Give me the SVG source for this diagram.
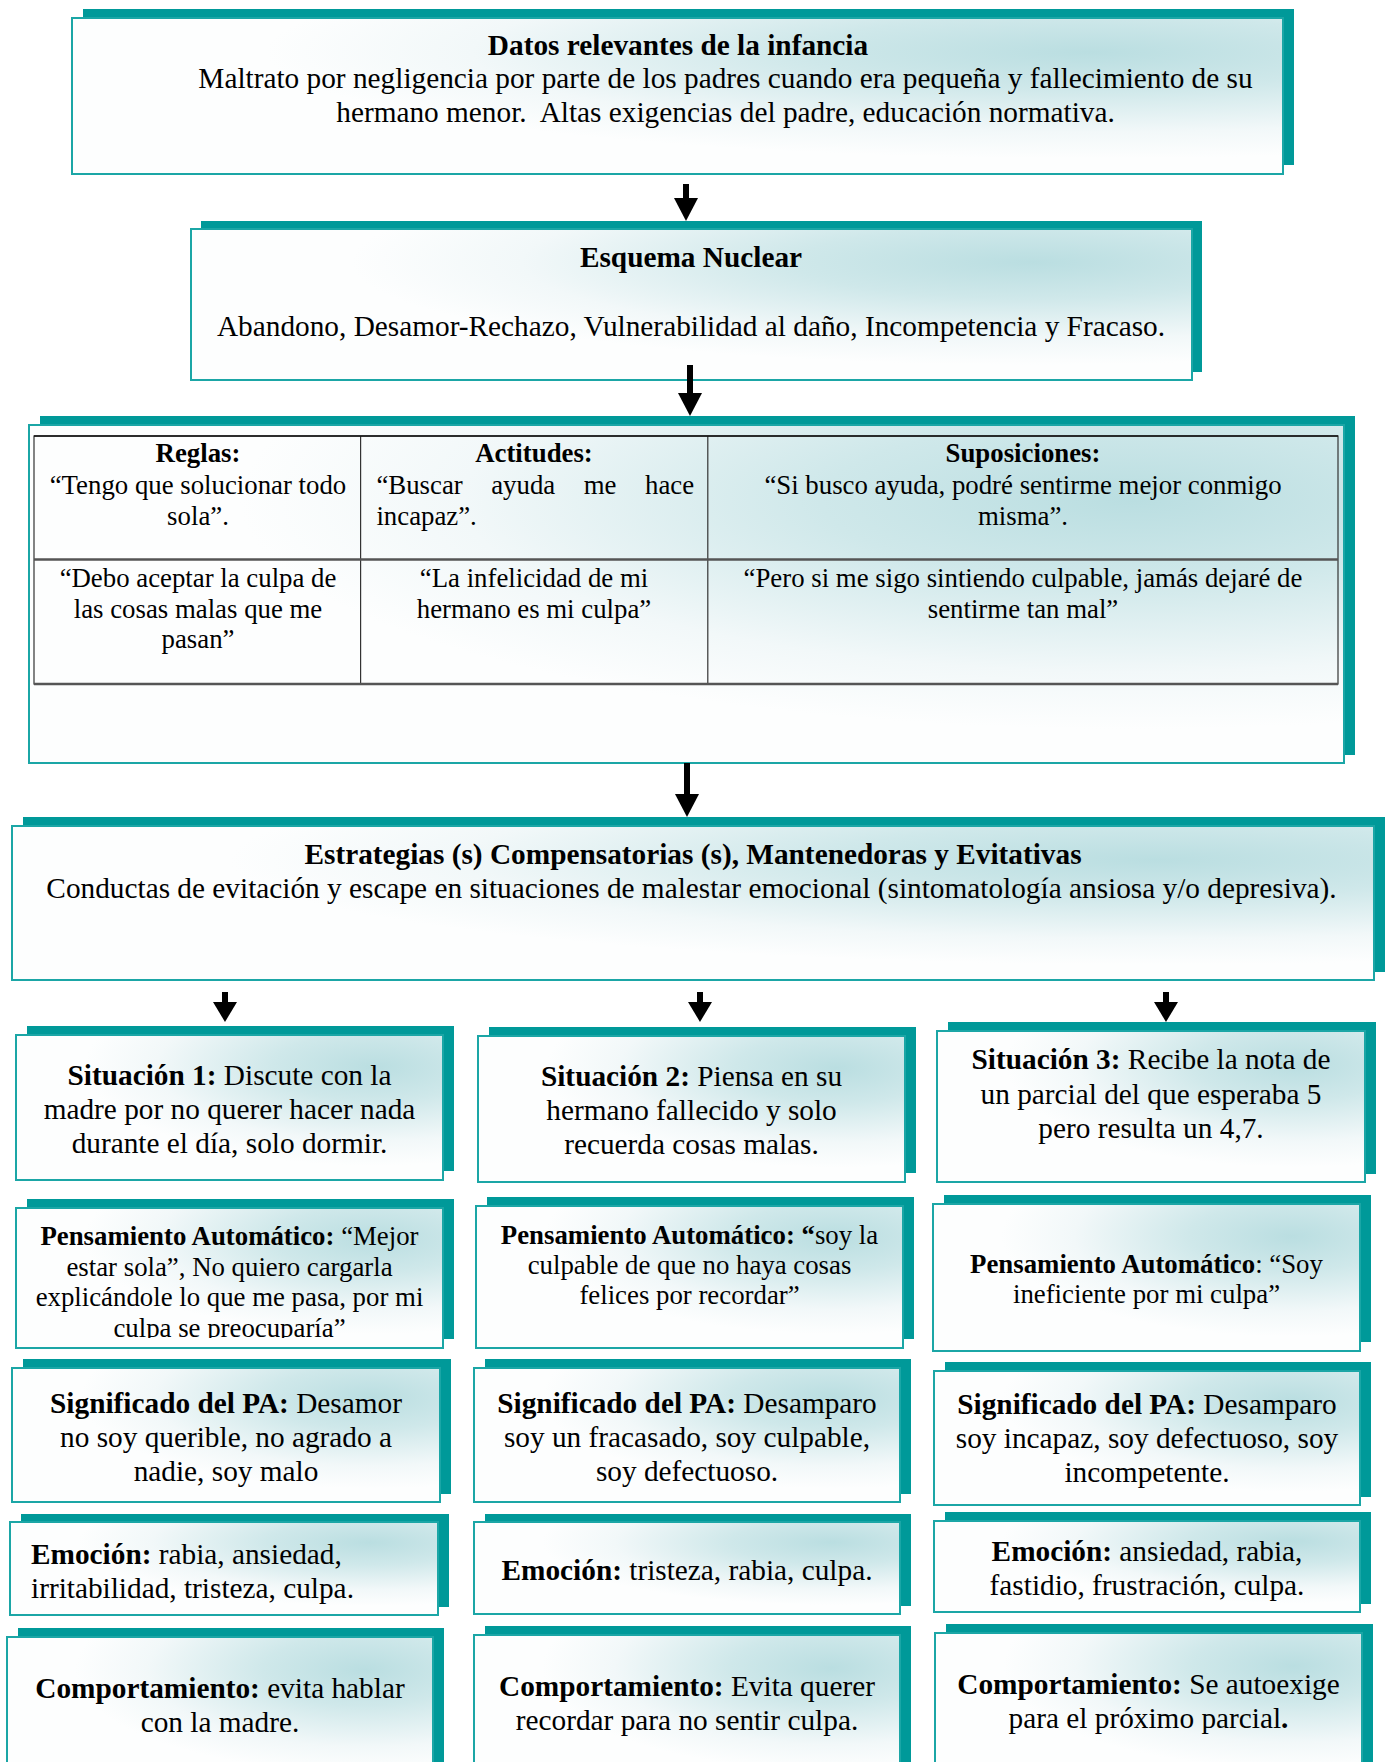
<svg xmlns="http://www.w3.org/2000/svg" width="1392" height="1762" viewBox="0 0 1392 1762">
<defs>
<radialGradient id="gf" cx="0.84" cy="0.22" r="0.68">
<stop offset="0" stop-color="#badee1"/>
<stop offset="0.35" stop-color="#cfe8ea"/>
<stop offset="0.75" stop-color="#f2f8f9"/>
<stop offset="1" stop-color="#fdfefe"/>
</radialGradient>
<clipPath id="clipPA1"><rect x="16" y="1200" width="427" height="138"/></clipPath>
<style>
.sh{fill:#009999}
.fr{fill:url(#gf);stroke:#1ba6a6;stroke-width:2}
text{font-family:"Liberation Serif","Times New Roman",serif;fill:#000}
.t12{font-size:29.3px}
.t11{font-size:26.8px}
.b{font-weight:bold}
.m{text-anchor:middle}
.grid{stroke:#333;stroke-width:1.2;fill:none}
.gridh{stroke:#555;stroke-width:2.5}
.arr{fill:#000}
</style>
</defs>

<g id="datos">
<rect class="sh" x="83" y="9" width="1211" height="156"/>
<rect class="fr" x="72" y="18" width="1211" height="156"/>
<text class="t12 b m" x="678" y="55">Datos relevantes de la infancia</text>
<text class="t12 m" x="725.5" y="88">Maltrato por negligencia por parte de los padres cuando era pequeña y fallecimiento de su</text>
<text class="t12 m" x="725.5" y="122" xml:space="preserve">hermano menor.  Altas exigencias del padre, educación normativa.</text>
</g>

<g id="esquema">
<rect class="sh" x="201" y="221" width="1001" height="151"/>
<rect class="fr" x="191" y="229" width="1001" height="151"/>
<text class="t12 b m" x="691" y="267">Esquema Nuclear</text>
<text class="t12 m" x="691" y="336">Abandono, Desamor-Rechazo, Vulnerabilidad al daño, Incompetencia y Fracaso.</text>
</g>

<g id="creencias">
<rect class="sh" x="40" y="416" width="1315" height="339"/>
<rect class="fr" x="29" y="425" width="1315" height="338"/>
<rect class="grid" x="34" y="436" width="1304" height="248"/>
<line class="grid" x1="360.6" y1="436" x2="360.6" y2="684"/>
<line class="grid" x1="707.8" y1="436" x2="707.8" y2="684"/>
<line class="gridh" x1="34" y1="559.5" x2="1338" y2="559.5"/>
<line class="gridh" x1="34" y1="684" x2="1338" y2="684"/>
<line stroke="#111" stroke-width="1.5" x1="34" y1="436" x2="1338" y2="436"/>
<text class="t11 b m" x="198" y="462">Reglas:</text>
<text class="t11 m" x="198" y="494">“Tengo que solucionar todo</text>
<text class="t11 m" x="198" y="525">sola”.</text>
<text class="t11 b m" x="534" y="462">Actitudes:</text>
<text class="t11" y="494"><tspan x="376.4">“Buscar</tspan><tspan x="491.2">ayuda</tspan><tspan x="583.7">me</tspan><tspan x="645">hace</tspan></text>
<text class="t11" x="376.4" y="525">incapaz”.</text>
<text class="t11 b m" x="1023" y="462">Suposiciones:</text>
<text class="t11 m" x="1023" y="494">“Si busco ayuda, podré sentirme mejor conmigo</text>
<text class="t11 m" x="1023" y="525">misma”.</text>
<text class="t11 m" x="198" y="587">“Debo aceptar la culpa de</text>
<text class="t11 m" x="198" y="617.5">las cosas malas que me</text>
<text class="t11 m" x="198" y="648">pasan”</text>
<text class="t11 m" x="534" y="587">“La infelicidad de mi</text>
<text class="t11 m" x="534" y="617.5">hermano es mi culpa”</text>
<text class="t11 m" x="1023" y="587">“Pero si me sigo sintiendo culpable, jamás dejaré de</text>
<text class="t11 m" x="1023" y="617.5">sentirme tan mal”</text>
</g>

<g id="estrategias">
<rect class="sh" x="23" y="817" width="1362" height="155"/>
<rect class="fr" x="12" y="826" width="1362" height="154"/>
<text class="t12 b m" x="693" y="864">Estrategias (s) Compensatorias (s), Mantenedoras y Evitativas</text>
<text class="t12 m" x="691.5" y="898">Conductas de evitación y escape en situaciones de malestar emocional (sintomatología ansiosa y/o depresiva).</text>
</g>

<g id="situacion1">
<rect class="sh" x="27" y="1026" width="427" height="145"/>
<rect class="fr" x="16" y="1035" width="427" height="145"/>
<text class="t12 m" x="229.5" y="1085"><tspan class="b">Situación 1:</tspan> Discute con la</text>
<text class="t12 m" x="229.5" y="1119">madre por no querer hacer nada</text>
<text class="t12 m" x="229.5" y="1153">durante el día, solo dormir.</text>
</g>
<g id="situacion2">
<rect class="sh" x="489" y="1027" width="427" height="146"/>
<rect class="fr" x="478" y="1036" width="427" height="146"/>
<text class="t12 m" x="691.5" y="1086"><tspan class="b">Situación 2:</tspan> Piensa en su</text>
<text class="t12 m" x="691.5" y="1120">hermano fallecido y solo</text>
<text class="t12 m" x="691.5" y="1154">recuerda cosas malas.</text>
</g>
<g id="situacion3">
<rect class="sh" x="948" y="1022" width="428" height="152"/>
<rect class="fr" x="937" y="1031" width="428" height="151"/>
<text class="t12 m" x="1151" y="1069"><tspan class="b">Situación 3:</tspan> Recibe la nota de</text>
<text class="t12 m" x="1151" y="1103.5">un parcial del que esperaba 5</text>
<text class="t12 m" x="1151" y="1137.5">pero resulta un 4,7.</text>
</g>

<g id="pa1">
<rect class="sh" x="27" y="1199" width="427" height="140"/>
<rect class="fr" x="16" y="1208" width="427" height="140"/>
<g clip-path="url(#clipPA1)">
<text class="t11 m" x="229.5" y="1245"><tspan class="b">Pensamiento Automático:</tspan> “Mejor</text>
<text class="t11 m" x="229.5" y="1276">estar sola”, No quiero cargarla</text>
<text class="t11 m" x="229.5" y="1306">explicándole lo que me pasa, por mi</text>
<text class="t11 m" x="229.5" y="1336.5">culpa se preocuparía”</text>
</g>
</g>
<g id="pa2">
<rect class="sh" x="487" y="1197" width="427" height="142"/>
<rect class="fr" x="476" y="1206" width="427" height="142"/>
<text class="t11 m" x="689.5" y="1244"><tspan class="b">Pensamiento Automático: “</tspan>soy la</text>
<text class="t11 m" x="689.5" y="1274">culpable de que no haya cosas</text>
<text class="t11 m" x="689.5" y="1304">felices por recordar”</text>
</g>
<g id="pa3">
<rect class="sh" x="944" y="1195" width="427" height="147"/>
<rect class="fr" x="933" y="1204" width="427" height="147"/>
<text class="t11 m" x="1146.5" y="1272.5"><tspan class="b">Pensamiento Automático</tspan>: “Soy</text>
<text class="t11 m" x="1146.5" y="1303">ineficiente por mi culpa”</text>
</g>

<g id="significado1">
<rect class="sh" x="23" y="1359" width="428" height="135"/>
<rect class="fr" x="12" y="1368" width="428" height="134"/>
<text class="t12 m" x="226" y="1412.5"><tspan class="b">Significado del PA:</tspan> Desamor</text>
<text class="t12 m" x="226" y="1447">no soy querible, no agrado a</text>
<text class="t12 m" x="226" y="1481">nadie, soy malo</text>
</g>
<g id="significado2">
<rect class="sh" x="485" y="1359" width="426" height="135"/>
<rect class="fr" x="474" y="1368" width="426" height="134"/>
<text class="t12 m" x="687" y="1412.5"><tspan class="b">Significado del PA:</tspan> Desamparo</text>
<text class="t12 m" x="687" y="1447">soy un fracasado, soy culpable,</text>
<text class="t12 m" x="687" y="1481">soy defectuoso.</text>
</g>
<g id="significado3">
<rect class="sh" x="945" y="1362" width="426" height="135"/>
<rect class="fr" x="934" y="1371" width="426" height="134"/>
<text class="t12 m" x="1147" y="1413.5"><tspan class="b">Significado del PA:</tspan> Desamparo</text>
<text class="t12 m" x="1147" y="1448">soy incapaz, soy defectuoso, soy</text>
<text class="t12 m" x="1147" y="1482">incompetente.</text>
</g>

<g id="emocion1">
<rect class="sh" x="21" y="1514" width="428" height="93"/>
<rect class="fr" x="10" y="1522" width="428" height="93"/>
<text class="t12" x="31" y="1563.5"><tspan class="b">Emoción:</tspan> rabia, ansiedad,</text>
<text class="t12" x="31" y="1597.5">irritabilidad, tristeza, culpa.</text>
</g>
<g id="emocion2">
<rect class="sh" x="485" y="1514" width="426" height="92"/>
<rect class="fr" x="474" y="1522" width="426" height="92"/>
<text class="t12 m" x="687" y="1580"><tspan class="b">Emoción:</tspan> tristeza, rabia, culpa.</text>
</g>
<g id="emocion3">
<rect class="sh" x="945" y="1512" width="426" height="92"/>
<rect class="fr" x="934" y="1521" width="426" height="91"/>
<text class="t12 m" x="1147" y="1561"><tspan class="b">Emoción:</tspan> ansiedad, rabia,</text>
<text class="t12 m" x="1147" y="1595">fastidio, frustración, culpa.</text>
</g>

<g id="comportamiento1">
<rect class="sh" x="18" y="1628" width="426" height="150"/>
<rect class="fr" x="7" y="1637" width="426" height="150"/>
<text class="t12 m" x="220" y="1698"><tspan class="b">Comportamiento:</tspan> evita hablar</text>
<text class="t12 m" x="220" y="1732">con la madre.</text>
</g>
<g id="comportamiento2">
<rect class="sh" x="485" y="1626" width="426" height="150"/>
<rect class="fr" x="474" y="1635" width="426" height="150"/>
<text class="t12 m" x="687" y="1696"><tspan class="b">Comportamiento:</tspan> Evita querer</text>
<text class="t12 m" x="687" y="1730">recordar para no sentir culpa.</text>
</g>
<g id="comportamiento3">
<rect class="sh" x="946" y="1624" width="427" height="150"/>
<rect class="fr" x="935" y="1633" width="427" height="150"/>
<text class="t12 m" x="1148.5" y="1694"><tspan class="b">Comportamiento:</tspan> Se autoexige</text>
<text class="t12 m" x="1148.5" y="1728">para el próximo parcial<tspan class="b">.</tspan></text>
</g>

<g id="connectors">
<rect class="arr" x="683" y="184" width="6" height="16"/><polygon class="arr" points="674,198 698,198 686,221"/>
<rect class="arr" x="687" y="365" width="6" height="30"/><polygon class="arr" points="678,393 702,393 690,416"/>
<rect class="arr" x="684" y="763" width="6" height="33"/><polygon class="arr" points="675,794 699,794 687,817"/>
<rect class="arr" x="222" y="992" width="6" height="12"/><polygon class="arr" points="213,1002 237,1002 225,1022"/>
<rect class="arr" x="697" y="992" width="6" height="12"/><polygon class="arr" points="688,1002 712,1002 700,1022"/>
<rect class="arr" x="1163" y="992" width="6" height="12"/><polygon class="arr" points="1154,1002 1178,1002 1166,1022"/>
</g>
</svg>
